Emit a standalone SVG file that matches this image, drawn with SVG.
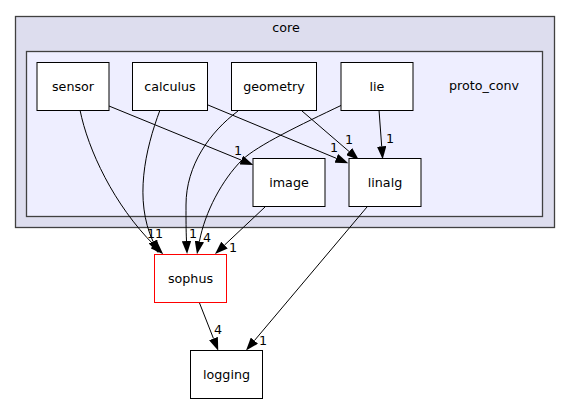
<svg xmlns="http://www.w3.org/2000/svg" width="571" height="404" viewBox="0 0 571 404">
<style>
text{font-family:"DejaVu Sans",sans-serif;font-size:12.7px;fill:#000;text-anchor:middle}
.node rect{fill:#fff;stroke:#000;stroke-width:1}
.edge path{fill:none;stroke:#000;stroke-width:1}
</style>
<defs>
<marker id="ah" viewBox="0 0 13 9.4" refX="0" refY="4.7" markerWidth="13" markerHeight="9.4" markerUnits="userSpaceOnUse" orient="auto">
<path d="M0,0 L13,4.7 L0,9.4 Z" fill="#000"/>
</marker>
</defs>
<g id="cluster_core">
<rect x="15.5" y="16.5" width="539" height="211" fill="#ddddee" stroke="#404040" stroke-width="1.3"/>
<text x="286" y="32">core</text>
</g>
<g id="cluster_proto_conv">
<rect x="26.5" y="51.5" width="516" height="165" fill="#eeeeff" stroke="#404040" stroke-width="1.3"/>
<text x="484" y="90">proto_conv</text>
</g>
<g id="edges" class="edge">
<path d="M80,110 C88,150 114,205 154,245" marker-end="url(#ah)"/>
<path d="M160,110 C145,150 134,200 153,241.5" marker-end="url(#ah)"/>
<path d="M238,111 C210,132 186,165 186,205 C186,220 186,230 186.5,241" marker-end="url(#ah)"/>
<path d="M342,105 C300,125 258,145 242,160 C222,180 205,212 199.4,241.4" marker-end="url(#ah)"/>
<path d="M265,207 L224.5,245.1" marker-end="url(#ah)"/>
<path d="M109,106 L241.3,160.1" marker-end="url(#ah)"/>
<path d="M208,105 L336.3,158.3" marker-end="url(#ah)"/>
<path d="M302,111 L349.1,151.5" marker-end="url(#ah)"/>
<path d="M379,110 L381.7,146.3" marker-end="url(#ah)"/>
<path d="M367,207 L254.4,340.6" marker-end="url(#ah)"/>
<path d="M199.5,303 L213.5,338.6" marker-end="url(#ah)"/>
<g id="edge-labels">
<text x="155" y="238">11</text>
<text x="193" y="238">1</text>
<text x="207" y="242">4</text>
<text x="233" y="252">1</text>
<text x="238" y="155">1</text>
<text x="334" y="152">1</text>
<text x="349" y="144">1</text>
<text x="390" y="143">1</text>
<text x="218" y="334">4</text>
<text x="263" y="345">1</text>
</g>
</g>
<g id="sensor" class="node"><rect x="37" y="62.5" width="72" height="48"/><text x="73" y="91">sensor</text></g>
<g id="calculus" class="node"><rect x="132.5" y="62.5" width="75" height="48"/><text x="170" y="91">calculus</text></g>
<g id="geometry" class="node"><rect x="231.5" y="62.5" width="85" height="48"/><text x="274" y="91">geometry</text></g>
<g id="lie" class="node"><rect x="341" y="62.5" width="72" height="48"/><text x="377" y="91">lie</text></g>
<g id="image" class="node"><rect x="253" y="158.5" width="72" height="48"/><text x="289" y="187">image</text></g>
<g id="linalg" class="node"><rect x="349" y="158.5" width="72" height="48"/><text x="385" y="187">linalg</text></g>
<g id="sophus" class="node"><rect x="154.5" y="254.5" width="72" height="48" style="stroke:#ff0000"/><text x="190.5" y="283">sophus</text></g>
<g id="logging" class="node"><rect x="190.5" y="350.5" width="72" height="48"/><text x="226.5" y="379">logging</text></g>
</svg>
